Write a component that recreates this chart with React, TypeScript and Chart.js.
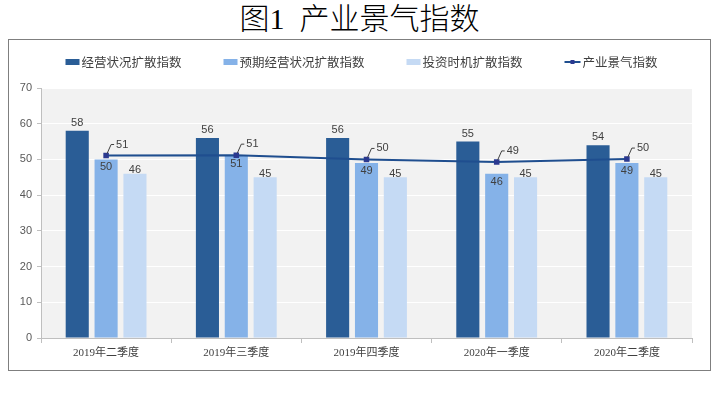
import React, { useEffect, useRef } from 'react';
import { Chart, registerables } from 'chart.js';

Chart.register(...registerables);

const TITLE = '图1  产业景气指数';
const categories = ['2019年二季度', '2019年三季度', '2019年四季度', '2020年一季度', '2020年二季度'];
const seriesNames = ['经营状况扩散指数', '预期经营状况扩散指数', '投资时机扩散指数', '产业景气指数'];
const operating = [58, 56, 56, 55, 54];
const expected = [50, 51, 49, 46, 49];
const investment = [46, 45, 45, 45, 45];
const prosperity = [51.1, 51.2, 50.0, 49.3, 50.1];
const Y_MIN = 0;
const Y_MAX = 70;
const Y_STEP = 10;

const COLORS = ['#2a5d96', '#85b2e8', '#c5daf4', '#1f4e8f'];
const MARKER = '#2b3990';
const NUM_FONT = "'Liberation Sans', 'Noto Sans CJK SC', sans-serif";
const CJK_FONT = "'Noto Sans CJK SC', sans-serif";
const CAT_FONT = "'Liberation Serif', 'Noto Sans CJK SC', serif";

const bgPlugin = {
  id: 'plotBg',
  beforeDraw(chart: any) {
    const { ctx, chartArea: a } = chart;
    ctx.save();
    ctx.fillStyle = '#f2f2f2';
    ctx.fillRect(a.left, a.top, a.right - a.left, a.bottom - a.top);
    ctx.restore();
  },
};

const labelPlugin = {
  id: 'valueLabels',
  afterDatasetsDraw(chart: any) {
    const { ctx } = chart;
    ctx.save();
    ctx.font = `11px ${NUM_FONT}`;
    ctx.fillStyle = '#404040';
    ctx.textAlign = 'center';
    ctx.textBaseline = 'middle';
    const offsets = [-8, 8, -3.5];
    chart.data.datasets.forEach((ds: any, di: number) => {
      const meta = chart.getDatasetMeta(di);
      meta.data.forEach((el: any, i: number) => {
        const v = ds.data[i];
        const txt = String(Math.round(v));
        if (ds.type === 'line') {
          ctx.strokeStyle = '#404040';
          ctx.lineWidth = 1;
          ctx.beginPath();
          ctx.moveTo(el.x + 1, el.y - 2);
          ctx.lineTo(el.x + 5, el.y - 11);
          ctx.lineTo(el.x + 8, el.y - 11);
          ctx.stroke();
          ctx.textAlign = 'left';
          ctx.fillText(txt, el.x + 10, el.y - 11);
          ctx.textAlign = 'center';
        } else {
          ctx.fillText(txt, el.x, el.y + offsets[di]);
        }
      });
    });
    ctx.restore();
  },
};

const legendPlugin = {
  id: 'customLegend',
  afterDraw(chart: any) {
    const { ctx, width } = chart;
    ctx.save();
    ctx.font = `12.5px ${CJK_FONT}`;
    ctx.textBaseline = 'middle';
    ctx.textAlign = 'left';
    const gap = 42;
    const y = 22;
    const items = chart.data.datasets.map((ds: any) => {
      const sw = ds.type === 'line' ? 16 : 14;
      const tw = ctx.measureText(ds.label).width;
      return { ds, sw, tw, w: sw + 2 + tw };
    });
    const total = items.reduce((s: number, it: any) => s + it.w, 0) + gap * (items.length - 1);
    let x = width / 2 - total / 2 + 2;
    items.forEach((it: any) => {
      if (it.ds.type === 'line') {
        ctx.strokeStyle = it.ds.borderColor;
        ctx.lineWidth = 2;
        ctx.beginPath();
        ctx.moveTo(x, y);
        ctx.lineTo(x + it.sw, y);
        ctx.stroke();
        ctx.fillStyle = MARKER;
        ctx.fillRect(x + it.sw / 2 - 2, y - 2, 4, 4);
      } else {
        ctx.fillStyle = it.ds.backgroundColor;
        ctx.fillRect(x, y - 3, it.sw, 6);
      }
      ctx.fillStyle = '#404040';
      ctx.fillText(it.ds.label, x + it.sw + 2, y + 0.5);
      x += it.w + gap;
    });
    ctx.restore();
  },
};

export default function App() {
  const ref = useRef<HTMLCanvasElement>(null);
  useEffect(() => {
    document.body.style.margin = '0';
    const barOpts = { order: 1, barPercentage: 0.8, categoryPercentage: 0.665 };
    const chart = new Chart(ref.current as HTMLCanvasElement, {
      type: 'bar',
      data: {
        labels: categories,
        datasets: [
          { type: 'bar', label: seriesNames[0], data: operating, backgroundColor: COLORS[0], ...barOpts },
          { type: 'bar', label: seriesNames[1], data: expected, backgroundColor: COLORS[1], ...barOpts },
          { type: 'bar', label: seriesNames[2], data: investment, backgroundColor: COLORS[2], ...barOpts },
          {
            type: 'line', label: seriesNames[3], data: prosperity, borderColor: COLORS[3], borderWidth: 2,
            pointStyle: 'rect', pointRadius: 2.5, pointBackgroundColor: MARKER, pointBorderColor: MARKER,
            order: 0, tension: 0,
          },
        ] as any,
      },
      options: {
        responsive: false,
        animation: false,
        layout: { padding: { top: 48, right: 18, left: 0, bottom: 0 } },
        plugins: { legend: { display: false }, tooltip: { enabled: false } },
        scales: {
          x: {
            grid: { display: true, drawOnChartArea: false, drawTicks: true, tickLength: 5, tickColor: '#bfbfbf', offset: true },
            border: { color: '#bfbfbf', width: 1 },
            ticks: { color: '#404040', font: { size: 11, family: CAT_FONT }, padding: 4 },
            afterFit(scale: any) { scale.height = 32; },
          },
          y: {
            min: Y_MIN,
            max: Y_MAX,
            ticks: { stepSize: Y_STEP, color: '#595959', font: { size: 11, family: NUM_FONT }, padding: 5 },
            grid: { color: '#ffffff', lineWidth: 1, tickColor: '#bfbfbf', tickLength: 4 },
            border: { color: '#bfbfbf', width: 1 },
            afterFit(scale: any) { scale.width = 32; },
          },
        },
      } as any,
      plugins: [bgPlugin, labelPlugin, legendPlugin],
    });
    return () => chart.destroy();
  }, []);

  return (
    <div>
      <div
        style={{
          position: 'absolute', left: 8, top: 0, width: 703, height: 37, lineHeight: '37px',
          textAlign: 'center', fontSize: 30, fontWeight: 300, whiteSpace: 'pre',
          fontFamily: "'Liberation Serif', 'Noto Sans CJK SC', serif", color: '#000',
        }}
      >
        {TITLE}
      </div>
      <div
        style={{
          position: 'absolute', left: 8, top: 39, width: 703, height: 332, boxSizing: 'border-box',
          border: '1px solid #7f7f7f', background: '#fff',
        }}
      >
        <canvas ref={ref} width={701} height={330} style={{ display: 'block', width: 701, height: 330 }} />
      </div>
    </div>
  );
}
